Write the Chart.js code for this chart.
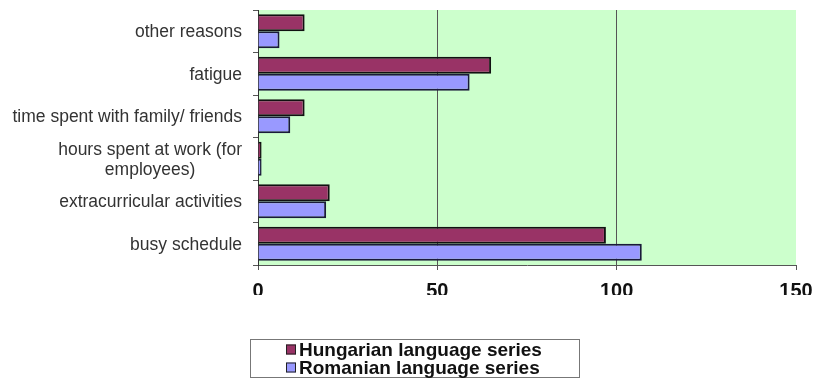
<!DOCTYPE html>
<html>
<head>
<meta charset="utf-8">
<script src="https://cdn.jsdelivr.net/npm/chart.js@4/dist/chart.umd.min.js"></script>
<style>
  html, body { margin: 0; padding: 0; background: #fff; }
  #wrap { width: 815px; height: 379px; position: relative; }
</style>
</head>
<body>
<div id="wrap"><canvas id="c" width="815" height="379"></canvas></div>
<script>
// Reasons given, top to bottom
const categories = [
  'other reasons',
  'fatigue',
  'time spent with family/ friends',
  ['hours spent at work (for', 'employees)'],
  'extracurricular activities',
  'busy schedule'
];
const hungarianValues = [13, 65, 13, 1, 20, 97];
const romanianValues  = [6, 59, 9, 1, 19, 107];
const seriesNames = ['Hungarian language series', 'Romanian language series'];
const xTicks = [0, 50, 100, 150];

// Light green plot background
const plotBackground = {
  id: 'plotBackground',
  beforeDraw(chart) {
    const a = chart.chartArea, ctx = chart.ctx;
    ctx.save();
    ctx.fillStyle = '#CCFFCC';
    ctx.fillRect(a.left, a.top, a.right - a.left, a.bottom - a.top);
    ctx.restore();
  }
};

// Category labels, each line centred within its own block, block right-aligned
const categoryLabels = {
  id: 'categoryLabels',
  afterDraw(chart) {
    const y = chart.scales.y, ctx = chart.ctx;
    const rightEdge = chart.chartArea.left - 16;
    ctx.save();
    ctx.font = '17.5px "Liberation Sans", Arial, sans-serif';
    ctx.fillStyle = '#333';
    ctx.textBaseline = 'middle';
    ctx.textAlign = 'center';
    const lh = 20;
    chart.data.labels.forEach((lab, i) => {
      const lines = Array.isArray(lab) ? lab : [lab];
      const w = Math.max(...lines.map(l => ctx.measureText(l).width));
      const cx = rightEdge - w / 2;
      const cy = y.getPixelForTick(i) + 1;
      lines.forEach((l, k) => {
        ctx.fillText(l, cx, cy + (k - (lines.length - 1) / 2) * lh);
      });
    });
    ctx.restore();
  }
};

// Boxed legend with series stacked vertically
const boxedLegend = {
  id: 'boxedLegend',
  afterDraw(chart) {
    const ctx = chart.ctx;
    const x0 = 250, y0 = 339, w = 329, h = 38;
    ctx.save();
    ctx.fillStyle = '#fff';
    ctx.fillRect(x0, y0, w, h);
    ctx.strokeStyle = '#777';
    ctx.lineWidth = 1;
    ctx.strokeRect(x0 + 0.5, y0 + 0.5, w, h);
    ctx.font = 'bold 19px "Liberation Sans", Arial, sans-serif';
    ctx.textBaseline = 'middle';
    ctx.textAlign = 'left';
    chart.data.datasets.forEach((ds, i) => {
      const cy = y0 + 10.5 + i * 18;
      ctx.fillStyle = ds.backgroundColor;
      ctx.fillRect(286, cy - 5, 10, 10);
      ctx.strokeStyle = '#222';
      ctx.strokeRect(286.5, cy - 4.5, 9, 9);
      ctx.fillStyle = '#111';
      ctx.fillText(ds.label, 299, cy + 1);
    });
    ctx.restore();
  }
};

new Chart(document.getElementById('c'), {
  type: 'bar',
  data: {
    labels: categories,
    datasets: [
      {
        label: seriesNames[0],
        data: hungarianValues,
        backgroundColor: '#993366',
        borderColor: '#111',
        borderWidth: 2,
        categoryPercentage: 0.8,
        barPercentage: 1.0
      },
      {
        label: seriesNames[1],
        data: romanianValues,
        backgroundColor: '#9999FF',
        borderColor: '#1a1a3a',
        borderWidth: 2,
        categoryPercentage: 0.8,
        barPercentage: 1.0
      }
    ]
  },
  options: {
    indexAxis: 'y',
    responsive: false,
    animation: false,
    layout: { padding: { left: 0, right: 19, top: 10, bottom: 84 } },
    plugins: {
      legend: { display: false },
      tooltip: { enabled: false }
    },
    scales: {
      x: {
        min: 0,
        max: 150,
        afterBuildTicks(scale) { scale.ticks = xTicks.map(v => ({ value: v })); },
        afterFit(scale) {
          scale.height = 30;
          scale.paddingLeft = 0;
          scale.paddingRight = 0;
        },
        grid: {
          color: ctx => (ctx.tick && (ctx.tick.value === 0 || ctx.tick.value === 150)) ? 'rgba(0,0,0,0)' : '#555',
          tickColor: '#555',
          tickLength: 5,
          lineWidth: 1
        },
        border: { display: true, color: '#555', width: 1 },
        ticks: {
          color: '#111',
          padding: 9,
          font: { family: '"Liberation Sans", Arial, sans-serif', size: 20, weight: 'bold' }
        }
      },
      y: {
        offset: true,
        afterFit(scale) {
          scale.width = 258;
          scale.paddingTop = 0;
          scale.paddingBottom = 0;
        },
        grid: {
          offset: true,
          drawOnChartArea: false,
          tickColor: '#555',
          tickLength: 5
        },
        border: { display: true, color: '#333', width: 1 },
        ticks: { display: false }
      }
    }
  },
  plugins: [plotBackground, categoryLabels, boxedLegend]
});
</script>
</body>
</html>
